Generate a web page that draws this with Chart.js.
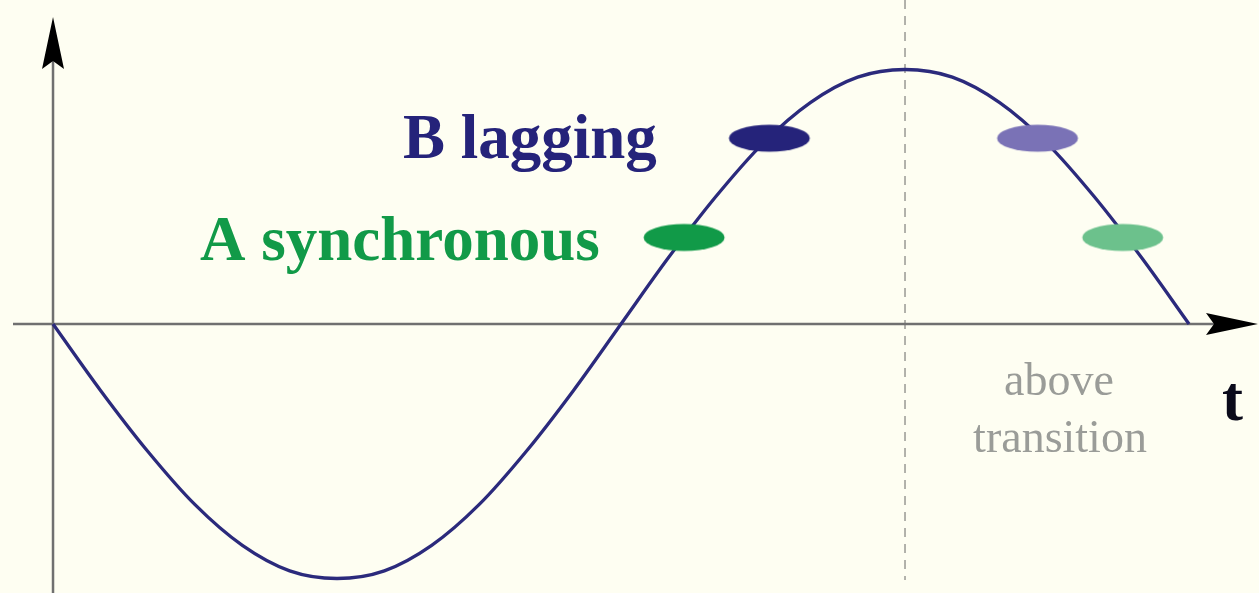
<!DOCTYPE html>
<html>
<head>
<meta charset="utf-8">
<script src="https://cdn.jsdelivr.net/npm/chart.js@4"></script>
<style>
  body { margin: 0; background: #fefef2; }
  #wrap { width: 1259px; height: 593px; position: relative; }
</style>
</head>
<body>
<div id="wrap"><canvas id="waveChart"></canvas></div>
<script>
// phase in degrees, signal
const phases = [0, 15, 30, 45, 60, 75, 90, 105, 120, 135, 150, 165, 180,
    195, 210, 225, 240, 255, 270, 285, 300, 315, 330, 345, 360];
const signal = [0, -0.26, -0.50, -0.71, -0.87, -0.97, -1.00, -0.97, -0.87, -0.71, -0.50, -0.26, 0,
    0.26, 0.50, 0.71, 0.87, 0.97, 1.00, 0.97, 0.87, 0.71, 0.50, 0.26, 0];

// bunches
const bunchNames = ['B lagging', 'A synchronous', 'B above', 'A above'];
const bunchPhase = [227, 200, 312, 339];
const bunchValue = [0.73, 0.34, 0.73, 0.34];
const bunchColors = ['#25237a', '#119a48', '#7a72b6', '#6cc18c'];

const transitionPhase = 270;

function ellipse(color) {
    const c = document.createElement('canvas');
    c.width = 86;
    c.height = 30;
    const g = c.getContext('2d');
    g.fillStyle = color;
    g.beginPath();
    g.ellipse(43, 15, 40.5, 13.5, 0, 0, Math.PI * 2);
    g.fill();
    return c;
}

function arrow(ctx, x, y, dir) {
    // dir: 'up' or 'right'
    ctx.save();
    ctx.translate(x, y);
    if (dir === 'right')
        ctx.rotate(Math.PI / 2);
    ctx.fillStyle = '#000';
    ctx.beginPath();
    ctx.moveTo(0, 0);
    ctx.lineTo(11, 52);
    ctx.lineTo(0, 44);
    ctx.lineTo(-11, 52);
    ctx.closePath();
    ctx.fill();
    ctx.restore();
}

const decor = {
    id: 'decor',
    beforeDatasetsDraw(chart) {
        const ctx = chart.ctx;
        const x = chart.scales.x;
        const y = chart.scales.y;
        const x0 = x.getPixelForValue(0);
        const y0 = y.getPixelForValue(0);
        const xt = x.getPixelForValue(transitionPhase);

        ctx.save();
        // dashed transition line
        ctx.strokeStyle = '#8a8a86';
        ctx.lineWidth = 1.3;
        ctx.setLineDash([9, 7]);
        ctx.beginPath();
        ctx.moveTo(xt, 0);
        ctx.lineTo(xt, 580);
        ctx.stroke();
        ctx.setLineDash([]);

        // axes
        ctx.strokeStyle = '#707070';
        ctx.lineWidth = 2.5;
        ctx.beginPath();
        ctx.moveTo(13, y0);
        ctx.lineTo(1215, y0);
        ctx.moveTo(x0, 593);
        ctx.lineTo(x0, 60);
        ctx.stroke();
        arrow(ctx, x0, 17, 'up');
        arrow(ctx, 1258, y0, 'right');
        ctx.restore();
    },
    afterDraw(chart) {
        const ctx = chart.ctx;
        ctx.save();
        ctx.textBaseline = 'alphabetic';
        ctx.font = 'bold 63px "Liberation Serif", serif';
        ctx.textAlign = 'left';
        ctx.fillStyle = '#25237a';
        ctx.fillText('B lagging', 403, 158);
        ctx.fillStyle = '#119a48';
        ctx.fillText('A synchronous', 200, 260);
        ctx.fillStyle = '#0a0a1a';
        ctx.fillText('t', 1222, 420);

        ctx.font = '46px "Liberation Serif", serif';
        ctx.textAlign = 'center';
        ctx.fillStyle = '#9a9c98';
        ctx.fillText('above', 1059, 395);
        ctx.fillText('transition', 1060, 452);
        ctx.restore();
    }
};

new Chart(document.getElementById('waveChart'), {
    type: 'scatter',
    data: {
        datasets: [
            {
                label: 'signal',
                data: phases.map((p, i) => ({ x: p, y: signal[i] })),
                showLine: true,
                borderColor: '#2b2a7c',
                borderWidth: 3.3,
                pointRadius: 0,
                cubicInterpolationMode: 'monotone',
                order: 2
            },
            ...bunchNames.map((name, i) => ({
                label: name,
                data: [{ x: bunchPhase[i], y: bunchValue[i] }],
                pointStyle: ellipse(bunchColors[i]),
                order: 1
            }))
        ]
    },
    options: {
        responsive: true,
        maintainAspectRatio: false,
        animation: false,
        layout: { padding: 0, autoPadding: false },
        plugins: {
            legend: { display: false },
            tooltip: { enabled: false }
        },
        scales: {
            x: { type: 'linear', display: false, min: -16.8, max: 382.18 },
            y: { type: 'linear', display: false, min: -1.057, max: 1.2731 }
        }
    },
    plugins: [decor]
});
</script>
</body>
</html>
